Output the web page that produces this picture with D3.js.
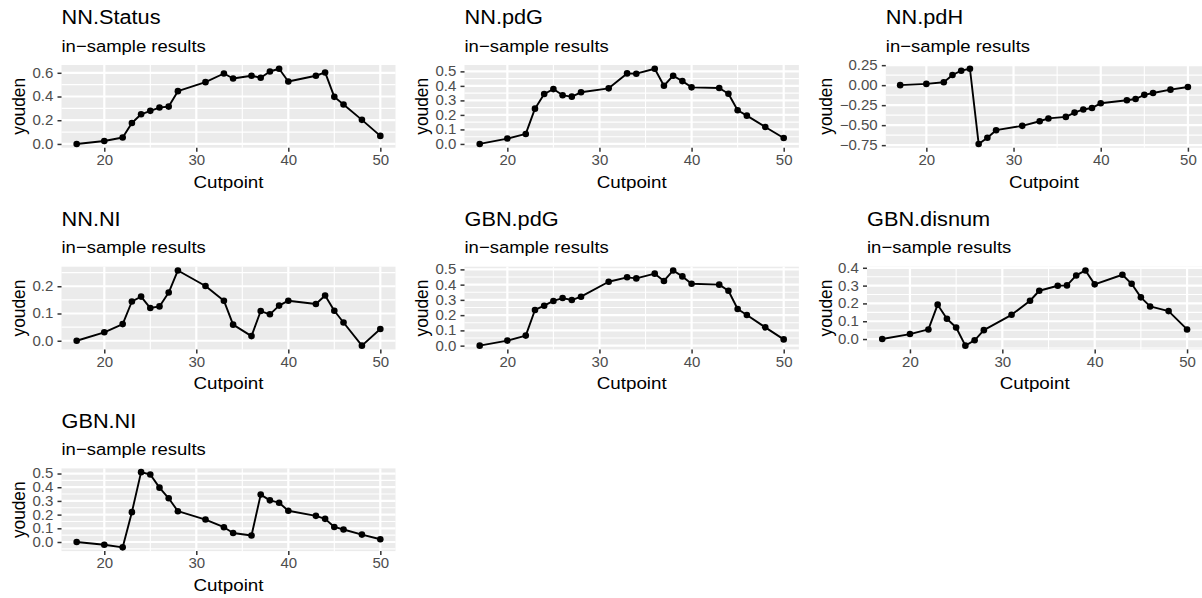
<!DOCTYPE html>
<html>
<head>
<meta charset="utf-8">
<script src="https://cdn.jsdelivr.net/npm/d3@7"></script>
<style>
  html, body { margin: 0; padding: 0; background: #ffffff; }
  svg { display: block; font-family: "Liberation Sans", Arial, Helvetica, sans-serif; }
</style>
</head>
<body>
<svg id="chart" width="1202" height="598"></svg>
<script>
// Cutpoints shared by every model
const cutpoints = [17, 20, 22, 23, 24, 25, 26, 27, 28, 31, 33, 34, 36, 37, 38, 39, 40, 43, 44, 45, 46, 48, 50];

// Youden index per cutpoint, one series per model
const nnStatus  = [0, 0.025, 0.054, 0.177, 0.250, 0.279, 0.307, 0.315, 0.445, 0.521, 0.594, 0.552, 0.575, 0.558, 0.611, 0.634, 0.527, 0.575, 0.603, 0.397, 0.332, 0.203, 0.068];
const nnPdG     = [0, 0.037, 0.069, 0.243, 0.344, 0.378, 0.335, 0.326, 0.356, 0.383, 0.486, 0.484, 0.518, 0.401, 0.470, 0.433, 0.390, 0.385, 0.346, 0.232, 0.195, 0.117, 0.041];
const nnPdH     = [0, 0.016, 0.036, 0.127, 0.181, 0.205, -0.735, -0.657, -0.563, -0.509, -0.451, -0.416, -0.397, -0.343, -0.304, -0.285, -0.227, -0.189, -0.173, -0.121, -0.098, -0.056, -0.023];
const nnNI      = [0, 0.031, 0.061, 0.144, 0.162, 0.120, 0.126, 0.177, 0.258, 0.201, 0.147, 0.059, 0.017, 0.109, 0.097, 0.129, 0.147, 0.135, 0.166, 0.110, 0.067, -0.018, 0.043];
const gbnPdG    = [0, 0.033, 0.066, 0.234, 0.262, 0.293, 0.312, 0.299, 0.321, 0.419, 0.448, 0.441, 0.472, 0.424, 0.493, 0.454, 0.406, 0.400, 0.360, 0.240, 0.201, 0.120, 0.041];
const gbnDisnum = [0, 0.028, 0.054, 0.193, 0.114, 0.065, -0.037, -0.007, 0.050, 0.136, 0.215, 0.271, 0.299, 0.301, 0.357, 0.385, 0.307, 0.361, 0.310, 0.234, 0.183, 0.157, 0.054];
const gbnNI     = [0, -0.020, -0.039, 0.218, 0.510, 0.493, 0.397, 0.319, 0.225, 0.164, 0.108, 0.066, 0.047, 0.346, 0.304, 0.287, 0.228, 0.191, 0.169, 0.110, 0.091, 0.054, 0.020];

// Panel titles
const titles = ["NN.Status", "NN.pdG", "NN.pdH", "NN.NI", "GBN.pdG", "GBN.disnum", "GBN.NI"];
const subtitle = "in\u2212sample results";

// Axis breaks
const xTicks = [20, 30, 40, 50];
const xMinor = [25, 35, 45];
const yTicksStatus = [0, 0.2, 0.4, 0.6];
const yTicksTenths5 = [0, 0.1, 0.2, 0.3, 0.4, 0.5];
const yTicksPdH = [-0.75, -0.5, -0.25, 0, 0.25];
const yTicksNI = [0, 0.1, 0.2];
const yTicksTenths4 = [0, 0.1, 0.2, 0.3, 0.4];

const seriesList = [nnStatus, nnPdG, nnPdH, nnNI, gbnPdG, gbnDisnum, gbnNI];
const yTickList = [yTicksStatus, yTicksTenths5, yTicksPdH, yTicksNI, yTicksTenths5, yTicksTenths4, yTicksTenths5];
const yFormats = [".1f", ".1f", ".2f", ".1f", ".1f", ".1f", ".1f"];

// ---- layout of the 3 x 3 grid ----
const cellW = 403.4, cellH = 201.7;
const panelTop0 = 65, panelH = 82.7;
const panelRight0 = 395.5;
// left edge of each panel, relative to its cell (depends on y-label width)
const panelLeftRel = [61.5, 61.1, 79.0, 61.5, 61.1, 60.2, 61.5];

// text is drawn slightly wide
const SX = 1.087;
const FONT = '"Liberation Sans", Arial, Helvetica, sans-serif';
const tickLen = 4, tickPadY = 4.2, tickPadX = 3.6;

const svg = d3.select("#chart");

function wideText(parent, x, y, str, size, anchor) {
  return parent.append("text")
    .attr("transform", `translate(${x},${y}) scale(${SX},1)`)
    .attr("text-anchor", anchor || "start")
    .style("font-size", size + "px")
    .attr("fill", "#000000")
    .text(str);
}

seriesList.forEach((values, i) => {
  const col = i % 3, row = Math.floor(i / 3);
  const cellX = col * cellW, cellY = row * cellH;
  const left = cellX + panelLeftRel[i];
  const right = cellX + panelRight0;
  const top = cellY + panelTop0;
  const bottom = top + panelH;

  const data = cutpoints.map((c, k) => ({ x: c, y: values[k] }));

  // continuous scales with a 5% expansion on each side
  const xe = d3.extent(cutpoints), xpad = (xe[1] - xe[0]) * 0.05;
  const ye = d3.extent(values), ypad = (ye[1] - ye[0]) * 0.05;
  const x = d3.scaleLinear().domain([xe[0] - xpad, xe[1] + xpad]).range([left, right]);
  const y = d3.scaleLinear().domain([ye[0] - ypad, ye[1] + ypad]).range([bottom, top]);

  const g = svg.append("g");

  // panel background
  g.append("rect")
    .attr("x", left).attr("y", top)
    .attr("width", right - left).attr("height", bottom - top)
    .attr("fill", "#EBEBEB");

  // minor grid
  const yt = yTickList[i];
  const step = yt[1] - yt[0];
  const yDom = y.domain();
  const yMinor = [yt[0] - step / 2].concat(yt.map(t => t + step / 2))
    .filter(v => v >= yDom[0] && v <= yDom[1]);

  g.selectAll(".ymin").data(yMinor).join("line")
    .attr("x1", left).attr("x2", right)
    .attr("y1", d => y(d)).attr("y2", d => y(d))
    .attr("stroke", "#ffffff").attr("stroke-width", 1.1);
  g.selectAll(".xmin").data(xMinor).join("line")
    .attr("x1", d => x(d)).attr("x2", d => x(d))
    .attr("y1", top).attr("y2", bottom)
    .attr("stroke", "#ffffff").attr("stroke-width", 1.1);

  // major grid
  g.selectAll(".ymaj").data(yt).join("line")
    .attr("x1", left).attr("x2", right)
    .attr("y1", d => y(d)).attr("y2", d => y(d))
    .attr("stroke", "#ffffff").attr("stroke-width", 2.2);
  g.selectAll(".xmaj").data(xTicks).join("line")
    .attr("x1", d => x(d)).attr("x2", d => x(d))
    .attr("y1", top).attr("y2", bottom)
    .attr("stroke", "#ffffff").attr("stroke-width", 2.2);

  // line and points
  const line = d3.line().x(d => x(d.x)).y(d => y(d.y));
  g.append("path").datum(data)
    .attr("d", line)
    .attr("fill", "none")
    .attr("stroke", "#000000")
    .attr("stroke-width", 1.9)
    .attr("stroke-linejoin", "round");
  g.selectAll(".pt").data(data).join("circle")
    .attr("cx", d => x(d.x)).attr("cy", d => y(d.y))
    .attr("r", 3.3)
    .attr("fill", "#000000");

  // axes
  const yAxis = d3.axisLeft(y).tickValues(yt).tickFormat(d3.format(yFormats[i]))
    .tickSize(tickLen).tickPadding(tickPadY);
  const gy = g.append("g").attr("transform", `translate(${left},0)`).call(yAxis);
  const xAxis = d3.axisBottom(x).tickValues(xTicks).tickFormat(d3.format("d"))
    .tickSize(tickLen).tickPadding(tickPadX);
  const gx = g.append("g").attr("transform", `translate(0,${bottom})`).call(xAxis);
  [gx, gy].forEach(a => {
    a.select(".domain").remove();
    a.selectAll(".tick line").attr("stroke", "#333333").attr("stroke-width", 1.5);
    a.selectAll(".tick text")
      .attr("fill", "#4D4D4D")
      .style("font-size", "13.8px")
      .style("font-family", FONT);
  });
  // widen tick labels while keeping their anchor points
  gy.selectAll(".tick text")
    .attr("x", -(tickLen + tickPadY) / SX)
    .attr("transform", `scale(${SX},1)`);
  gx.selectAll(".tick text")
    .attr("transform", `scale(${SX},1)`);

  // titles
  wideText(g, left, cellY + 24.3, titles[i], 20);
  wideText(g, left, cellY + 51.5, subtitle, 17);

  // axis titles
  wideText(g, (left + right) / 2, cellY + 187.5, "Cutpoint", 17.3, "middle");
  g.append("text")
    .attr("transform", `translate(${cellX + 25},${(top + bottom) / 2}) scale(${SX},1) rotate(-90)`)
    .attr("text-anchor", "middle")
    .style("font-size", "17.3px").attr("fill", "#000000")
    .text("youden");
});
</script>
</body>
</html>
